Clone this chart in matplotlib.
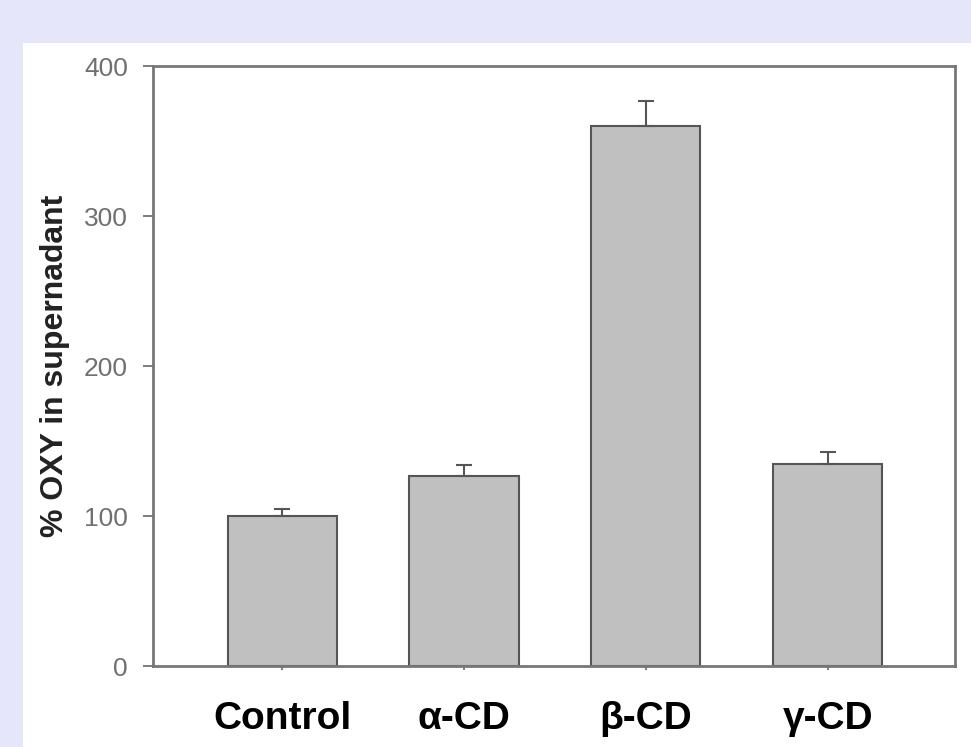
import numpy as np
import matplotlib
matplotlib.use('Agg')
import matplotlib.pyplot as plt
from matplotlib.patches import Rectangle

# data
groups = ['Control', 'α-CD', 'β-CD', 'γ-CD']
values = [100, 127, 360, 135]
errors = [5, 7, 17, 8]

plt.rcParams['font.family'] = ['Liberation Sans', 'DejaVu Sans']

fig = plt.figure(figsize=(9.71, 7.47), dpi=100)
fig.patch.set_facecolor('#e6e6fa')
# white panel holding the chart
panel = Rectangle((23 / 971, 0), 1, (747 - 43) / 747,
                  transform=fig.transFigure, facecolor='white',
                  edgecolor='none', zorder=-10)
fig.add_artist(panel)

ax = fig.add_axes([153 / 971, 81 / 747, 802 / 971, 600 / 747])
ax.set_facecolor('white')

x = np.arange(len(groups))
ax.bar(x, values, width=0.6, color='#c0c0c0', edgecolor='#555555', linewidth=1.5,
       yerr=[np.zeros(len(errors)), errors], capsize=6,
       error_kw=dict(ecolor='#555555', elinewidth=1.5, capthick=1.5), zorder=2)

ax.set_xlim(-0.71, 3.70)
ax.set_ylim(0, 400)
ax.set_yticks([0, 100, 200, 300, 400])
ax.set_xticks(x)
ax.set_xticklabels(groups, fontsize=28, fontweight='bold', color='black')
ax.tick_params(axis='x', length=3, width=1.2, color='#666666', pad=22)
ax.tick_params(axis='y', length=7, width=1.2, color='#666666', labelsize=19,
               labelcolor='#707070', pad=11)

for s in ax.spines.values():
    s.set_color('#777777')
    s.set_linewidth(2)

ax.set_ylabel('% OXY in supernadant', fontsize=23, fontweight='bold',
              color='#222222')
ax.yaxis.set_label_coords(-0.104, 0.5)

fig.savefig('out.png', dpi=100, facecolor=fig.get_facecolor())
